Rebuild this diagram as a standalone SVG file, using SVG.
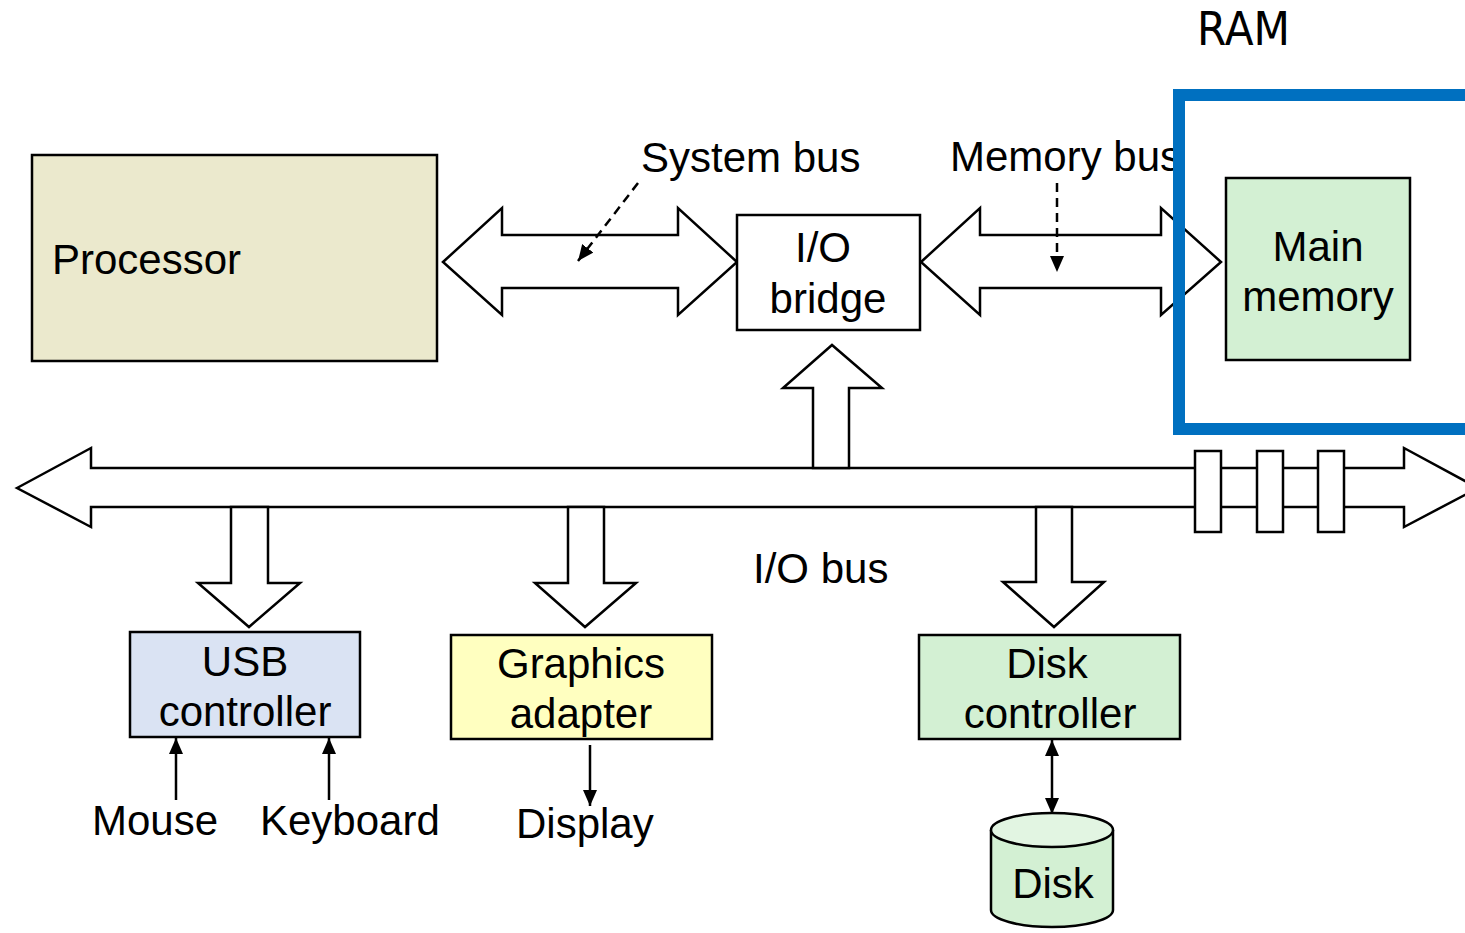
<svg xmlns="http://www.w3.org/2000/svg" width="1465" height="933" viewBox="0 0 1465 933">
<defs>
<style>
text{font-family:"Liberation Sans",Arial,sans-serif;font-size:42px;fill:#000}
.c{text-anchor:middle}
.box{stroke:#000;stroke-width:2.5}
.bus{fill:#fff;stroke:#000;stroke-width:2.5;stroke-linejoin:miter}
.ln{stroke:#000;stroke-width:2.5;fill:none}
.dash{stroke:#000;stroke-width:2.5;fill:none;stroke-dasharray:9 6}
</style>
<marker id="ah" viewBox="0 0 16 14" refX="16" refY="7" markerWidth="16" markerHeight="14" markerUnits="userSpaceOnUse" orient="auto-start-reverse">
<path d="M0,0 L16,7 L0,14 z" fill="#000"/>
</marker>
</defs>
<rect width="1465" height="933" fill="#fff"/>
<text x="1197" y="45" style="font-family:'DejaVu Sans',sans-serif;font-size:46px" textLength="93" lengthAdjust="spacingAndGlyphs">RAM</text>
<text id="label-system-bus" x="641" y="172">System bus</text>
<text id="label-memory-bus" x="950" y="171">Memory bus</text>
<rect x="1179" y="95" width="320" height="334" fill="#fff"/>
<g id="connectors">
<polygon class="bus" points="443,262 502,208 502,235 678,235 678,208 737,262 678,315 678,288 502,288 502,315"/>
<polygon class="bus" points="921,262 980,208 980,235 1161,235 1161,208 1221,262 1161,315 1161,288 980,288 980,315"/>
<polygon class="bus" points="17,488 91,448 91,468 1404,468 1404,448 1478,488 1404,527 1404,507 91,507 91,527"/>
<polygon class="bus" points="813,468 813,388 783,388 832,345 882,388 849,388 849,468"/>
<polygon class="bus" points="231,507 268,507 268,583 300,583 249,627 198,583 231,583"/>
<polygon class="bus" points="568,507 604,507 604,583 636,583 585,627 535,583 568,583"/>
<polygon class="bus" points="1036,507 1072,507 1072,582 1104,582 1054,627 1003,582 1036,582"/>
<rect class="bus" x="1195" y="451" width="26" height="81"/>
<rect class="bus" x="1257" y="451" width="26" height="81"/>
<rect class="bus" x="1318" y="451" width="26" height="81"/>
<line class="dash" x1="638" y1="183" x2="578" y2="261" marker-end="url(#ah)"/>
<line class="dash" x1="1057" y1="183" x2="1057" y2="272" marker-end="url(#ah)"/>
<line class="ln" x1="176" y1="800" x2="176" y2="738" marker-end="url(#ah)"/>
<line class="ln" x1="329" y1="800" x2="329" y2="738" marker-end="url(#ah)"/>
<line class="ln" x1="590" y1="745" x2="590" y2="806" marker-end="url(#ah)"/>
<line class="ln" x1="1052" y1="740" x2="1052" y2="814" marker-start="url(#ah)" marker-end="url(#ah)"/>
</g>
<g id="processor">
<rect class="box" x="32" y="155" width="405" height="206" fill="#ebe9cd"/>
<text x="52" y="274">Processor</text>
</g>
<g id="io-bridge">
<rect class="box" x="737" y="215" width="183" height="115" fill="#fff"/>
<text class="c" x="823" y="262">I/O</text>
<text class="c" x="828" y="313">bridge</text>
</g>
<g id="main-memory">
<rect class="box" x="1226" y="178" width="184" height="182" fill="#d3f0d3"/>
<text class="c" x="1318" y="261">Main</text>
<text class="c" x="1318" y="311">memory</text>
</g>
<rect id="ram" x="1179" y="95" width="320" height="334" fill="none" stroke="#0070c0" stroke-width="12"/>
<text id="label-io-bus" x="753" y="583">I/O bus</text>
<g id="usb-controller">
<rect class="box" x="130" y="632" width="230" height="105" fill="#dae3f3"/>
<text class="c" x="245" y="676">USB</text>
<text class="c" x="245" y="726">controller</text>
</g>
<g id="graphics-adapter">
<rect class="box" x="451" y="635" width="261" height="104" fill="#ffffc0"/>
<text class="c" x="581" y="678">Graphics</text>
<text class="c" x="581" y="728">adapter</text>
</g>
<g id="disk-controller">
<rect class="box" x="919" y="635" width="261" height="104" fill="#d3f0d3"/>
<text class="c" x="1047" y="678">Disk</text>
<text class="c" x="1050" y="728">controller</text>
</g>
<g id="disk">
<path class="box" d="M991,830 V910 A61,17 0 0 0 1113,910 V830" fill="#d3f0d3"/>
<ellipse class="box" cx="1052" cy="830" rx="61" ry="17" fill="#e2f5e2"/>
<text class="c" x="1053" y="898">Disk</text>
</g>
<g id="mouse"><text x="92" y="835">Mouse</text></g>
<g id="keyboard"><text x="260" y="835">Keyboard</text></g>
<g id="display"><text x="516" y="838">Display</text></g>
</svg>
